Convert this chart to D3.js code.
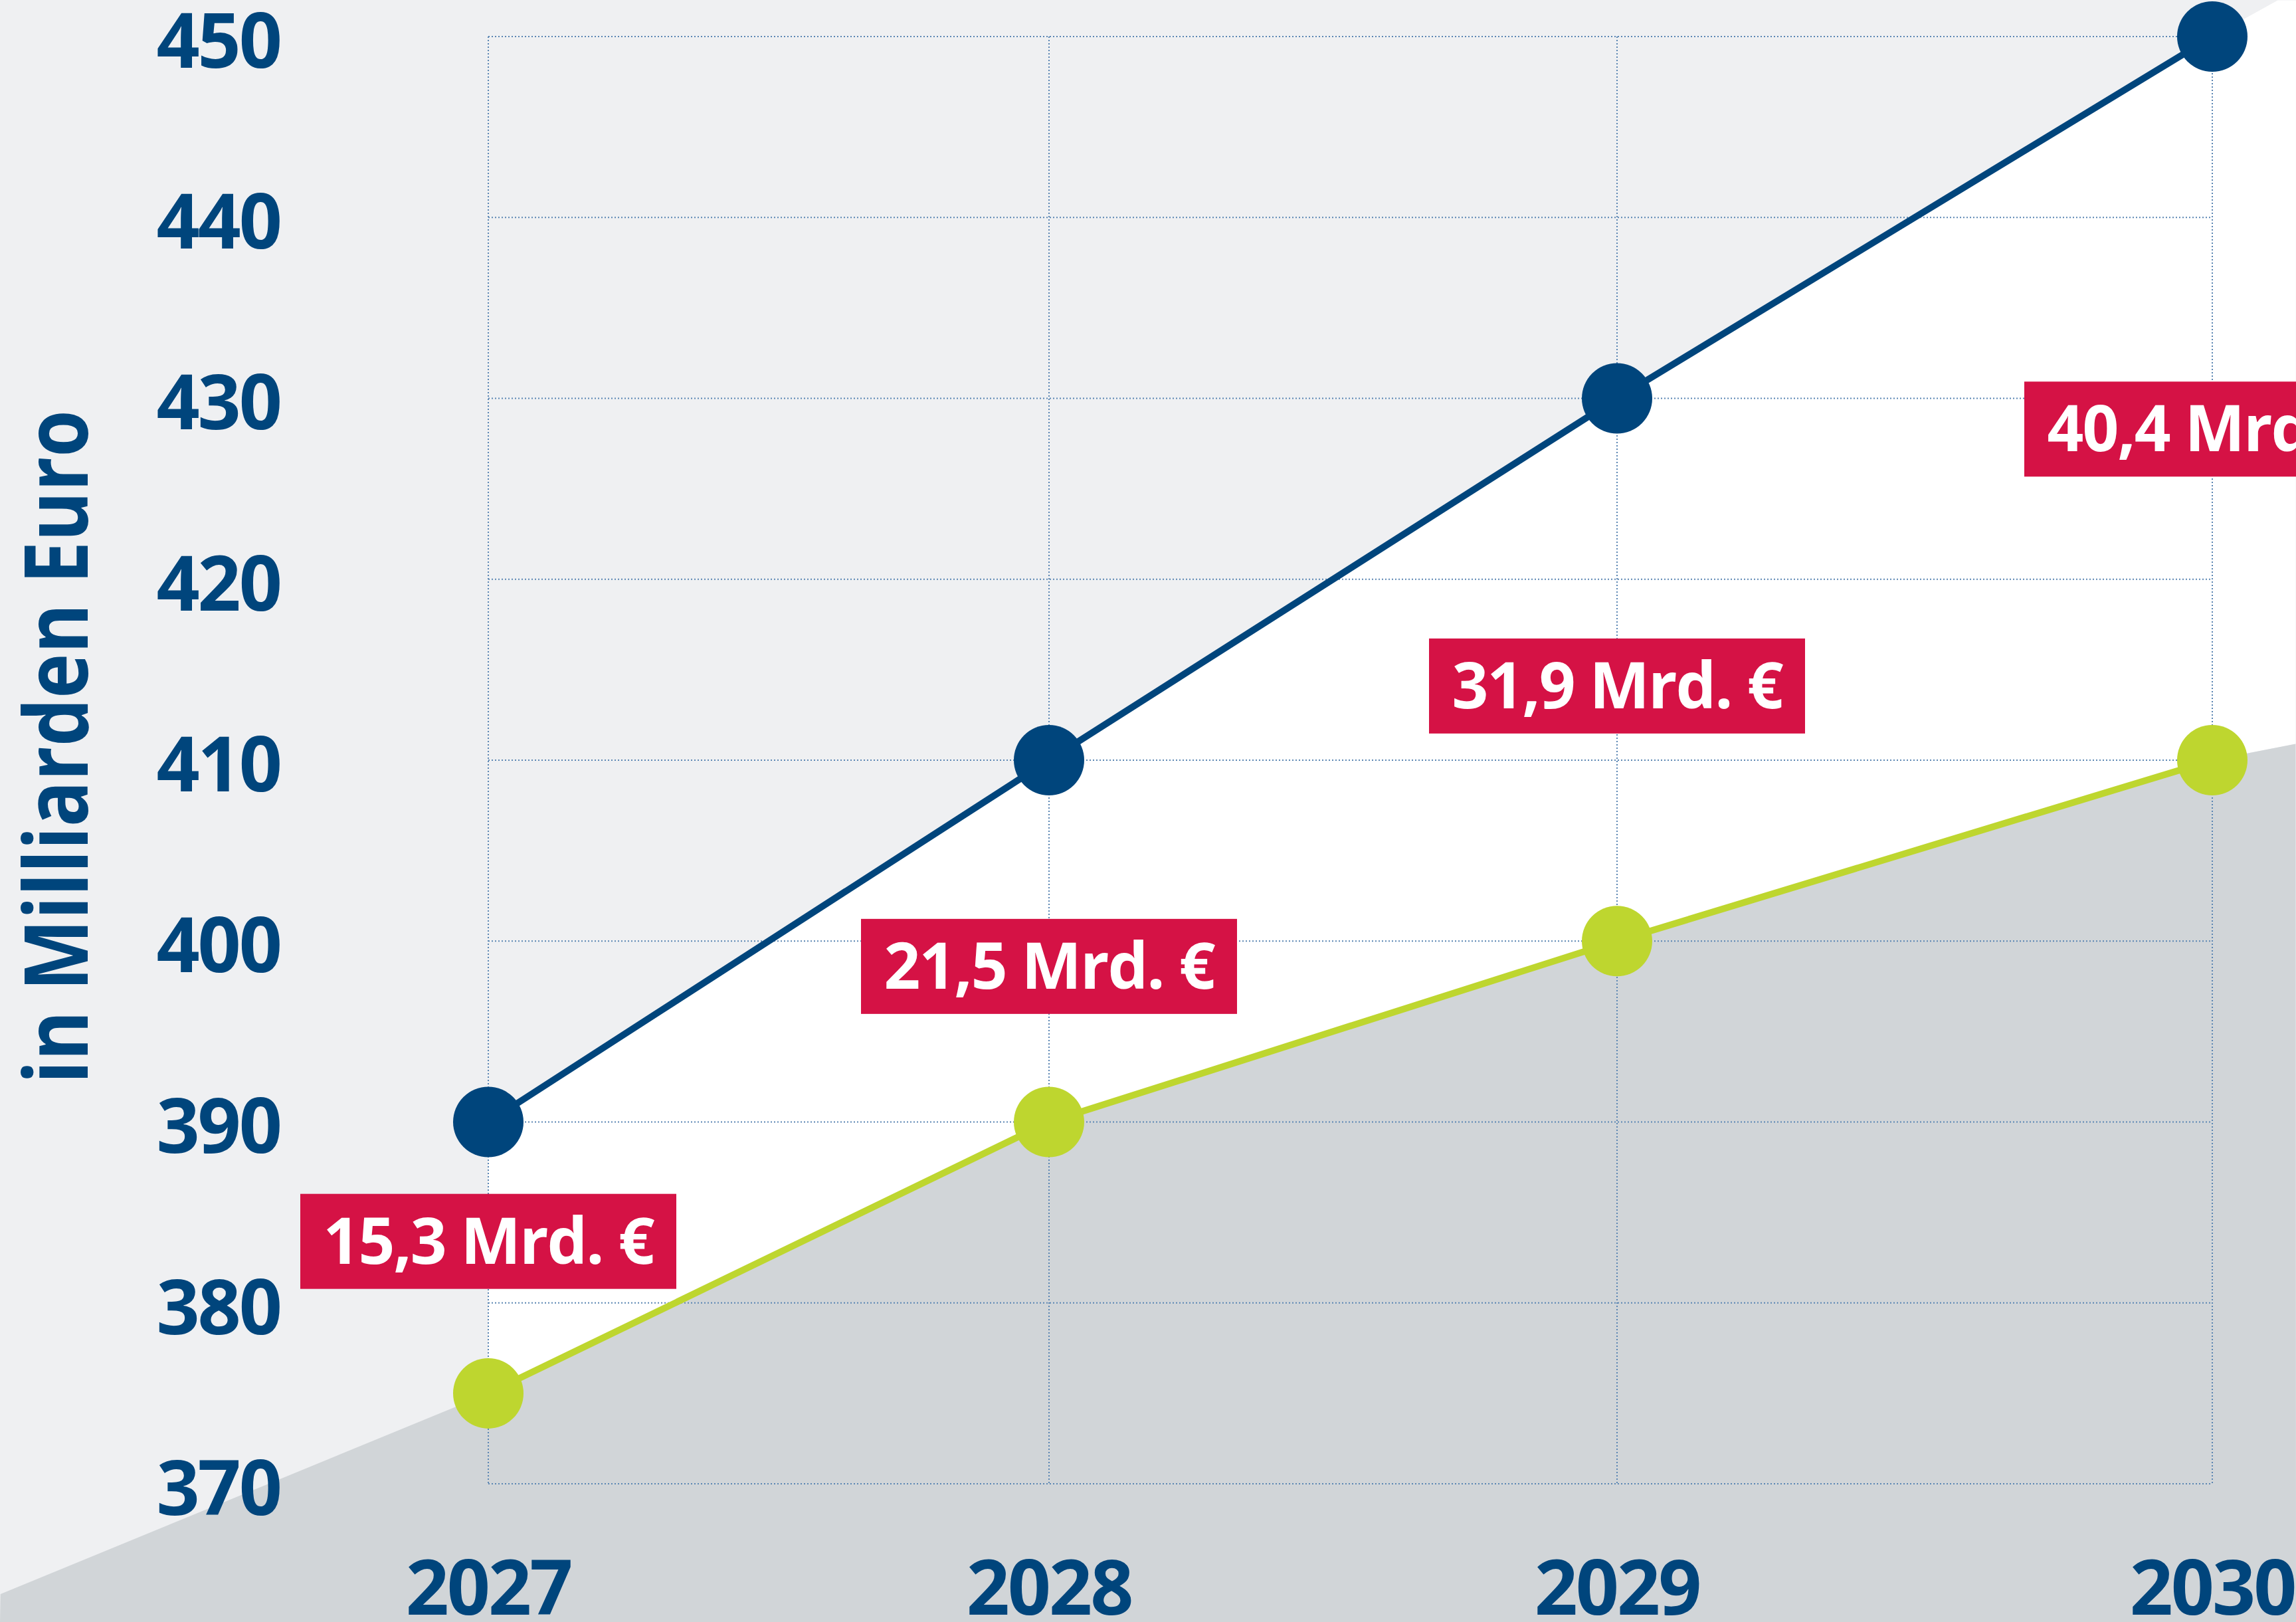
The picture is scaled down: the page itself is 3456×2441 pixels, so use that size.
<!DOCTYPE html>
<html>
<head>
<meta charset="utf-8">
<script src="https://cdn.jsdelivr.net/npm/d3@7"></script>
<style>
  html, body { margin: 0; padding: 0; background: #eff0f2; }
  svg { display: block; }
  text { font-family: 'Open Sans', 'Noto Sans', sans-serif; font-weight: 700; }
</style>
</head>
<body>
<div id="chart"></div>
<script>
const years = [2027, 2028, 2029, 2030];
const budget = [390, 410, 430, 450];      // dunkelblaue Linie
const baseline = [375, 390, 400, 410];    // grüne Linie
const gapLabels = ['15,3 Mrd. €', '21,5 Mrd. €', '31,9 Mrd. €', '40,4 Mrd. €'];
const gapLabelAt = [383.4, 398.6, 414.1, 428.3];
const yTicks = [370, 380, 390, 400, 410, 420, 430, 440, 450];
const yTitle = 'in Milliarden Euro';

// where the shaded bands run off the picture edges
const shadeLeft = { year: 2026.13, value: 363.9 };
const shadeRight = { year: 2030.14, value: 410.9 };
const whiteTop = { year: 2030.11, value: 452.0 };

const w = 3456;
const h = 2441;

const blue = '#00457c';
const green = '#bed62f';
const red = '#d51245';
const grid = '#5b86b3';

const x = d3.scaleLinear()
  .domain(years)
  .range([735, 1579, 2434, 3330]);

const y = d3.scaleLinear()
  .domain([370, 450])
  .range([2233, 55]);

const svg = d3.select('#chart')
  .append('svg')
  .attr('width', w)
  .attr('height', h);

svg.append('rect')
  .attr('width', w)
  .attr('height', h)
  .attr('fill', '#eff0f2');

const bluePts = years.map((yr, i) => [x(yr), y(budget[i])]);
const greenPts = years.map((yr, i) => [x(yr), y(baseline[i])]);
const poly = d3.line();

// white band between the two lines
const whitePoly = bluePts.concat([
  [x(whiteTop.year), y(whiteTop.value)],
  [w, y(whiteTop.value)],
  [x(shadeRight.year), y(shadeRight.value)]
], greenPts.slice().reverse());

svg.append('path')
  .attr('d', poly(whitePoly) + 'Z')
  .attr('fill', '#ffffff');

// grey area under the green line
const greyPoly = [[x(shadeLeft.year), y(shadeLeft.value)]].concat(greenPts, [
  [x(shadeRight.year), y(shadeRight.value)],
  [w, h],
  [0, h]
]);

svg.append('path')
  .attr('d', poly(greyPoly) + 'Z')
  .attr('fill', '#d1d5d8');

// dotted grid
svg.selectAll('.hgrid')
  .data(yTicks)
  .enter()
  .append('line')
  .attr('class', 'hgrid')
  .attr('x1', x(2027))
  .attr('x2', x(2030))
  .attr('y1', d => y(d))
  .attr('y2', d => y(d))
  .attr('stroke', grid)
  .attr('stroke-width', 2)
  .attr('stroke-dasharray', '2,3');

svg.selectAll('.vgrid')
  .data(years)
  .enter()
  .append('line')
  .attr('class', 'vgrid')
  .attr('x1', d => x(d))
  .attr('x2', d => x(d))
  .attr('y1', y(450))
  .attr('y2', y(370))
  .attr('stroke', grid)
  .attr('stroke-width', 2)
  .attr('stroke-dasharray', '2,3');

// lines + dots
const lineGen = d3.line()
  .x((d, i) => x(years[i]))
  .y(d => y(d));

svg.append('path')
  .attr('d', lineGen(baseline))
  .attr('fill', 'none')
  .attr('stroke', green)
  .attr('stroke-width', 10);

svg.append('path')
  .attr('d', lineGen(budget))
  .attr('fill', 'none')
  .attr('stroke', blue)
  .attr('stroke-width', 10);

svg.selectAll('.dot-green')
  .data(baseline)
  .enter()
  .append('circle')
  .attr('cx', (d, i) => x(years[i]))
  .attr('cy', d => y(d))
  .attr('r', 53)
  .attr('fill', green);

svg.selectAll('.dot-blue')
  .data(budget)
  .enter()
  .append('circle')
  .attr('cx', (d, i) => x(years[i]))
  .attr('cy', d => y(d))
  .attr('r', 53)
  .attr('fill', blue);

// difference labels
const boxW = 566;
const boxH = 143;

const labels = svg.selectAll('.gap')
  .data(gapLabels)
  .enter()
  .append('g')
  .attr('class', 'gap')
  .attr('transform', (d, i) => 'translate(' + x(years[i]) + ',' + y(gapLabelAt[i]) + ')');

labels.append('rect')
  .attr('x', -boxW / 2)
  .attr('y', -boxH / 2)
  .attr('width', boxW)
  .attr('height', boxH)
  .attr('fill', red);

labels.append('text')
  .text(d => d)
  .attr('text-anchor', 'middle')
  .attr('dy', '0.35em')
  .attr('fill', '#ffffff')
  .attr('font-size', 96)
  .attr('letter-spacing', -2);

// y axis labels
svg.selectAll('.ytick')
  .data(yTicks)
  .enter()
  .append('text')
  .attr('class', 'ytick')
  .text(d => d)
  .attr('x', 422)
  .attr('y', d => y(d) + 7)
  .attr('dy', '0.35em')
  .attr('text-anchor', 'end')
  .attr('fill', blue)
  .attr('font-size', 114)
  .attr('letter-spacing', -3);

// x axis labels
svg.selectAll('.xtick')
  .data(years)
  .enter()
  .append('text')
  .attr('class', 'xtick')
  .text(d => d)
  .attr('x', d => x(d))
  .attr('y', 2430)
  .attr('text-anchor', 'middle')
  .attr('fill', blue)
  .attr('font-size', 114)
  .attr('letter-spacing', -3);

svg.append('text')
  .text(yTitle)
  .attr('transform', 'translate(132,1124) rotate(-90)')
  .attr('text-anchor', 'middle')
  .attr('fill', blue)
  .attr('font-size', 132)
  .attr('textLength', 1014)
  .attr('lengthAdjust', 'spacingAndGlyphs');
</script>
</body>
</html>
